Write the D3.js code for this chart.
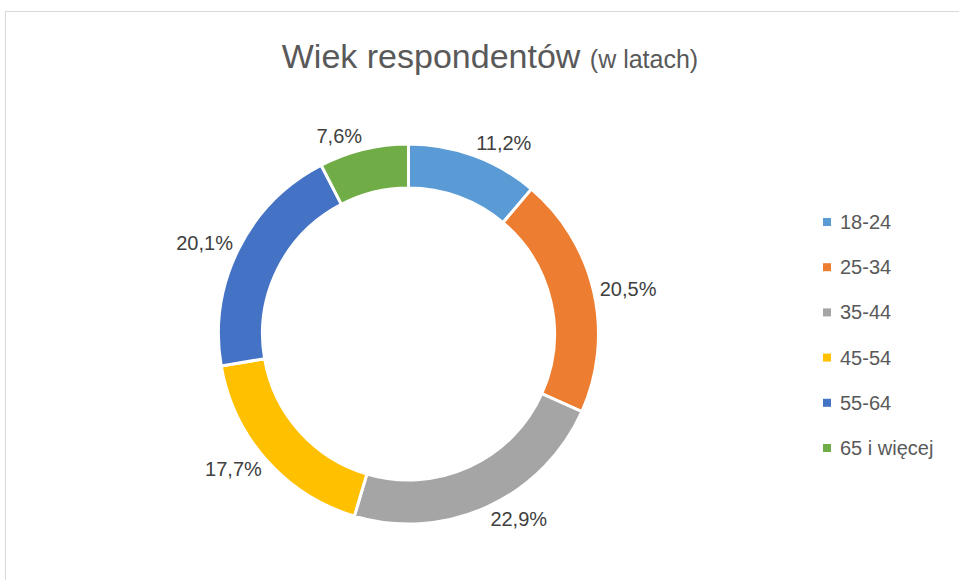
<!DOCTYPE html>
<html>
<head>
<meta charset="utf-8">
<script src="https://d3js.org/d3.v7.min.js"></script>
<style>
  html, body { margin: 0; padding: 0; background: #fff; }
  svg { display: block; font-family: "Liberation Sans", Arial, sans-serif; }
</style>
</head>
<body>
<div class="d3io"></div>
<script>

var categories = ["18-24", "25-34", "35-44", "45-54", "55-64", "65 i więcej"];
var values = [11.2, 20.5, 22.9, 17.7, 20.1, 7.6];
var colors = ["#5B9BD5", "#ED7D31", "#A5A5A5", "#FFC000", "#4472C4", "#70AD47"];

var W = 959, H = 580;
var cx = 408.5, cy = 334, rOut = 190, rIn = 146;

var svg = d3.select(".d3io").append("svg")
  .attr("width", W).attr("height", H);

// chart frame (runs past right and bottom edge)
svg.append("rect")
  .attr("x", 5.5).attr("y", 11.5)
  .attr("width", 1100).attr("height", 1100)
  .attr("fill", "none").attr("stroke", "#d9d9d9");

// title
var title = svg.append("text")
  .attr("x", 490).attr("y", 68)
  .attr("text-anchor", "middle")
  .attr("fill", "#595959");
title.append("tspan").attr("font-size", 34).text("Wiek respondentów ");
title.append("tspan").attr("font-size", 25).text("(w latach)");

var pie = d3.pie().sort(null).value(function(d) { return d; });
var arcs = pie(values);

var arc = d3.arc().innerRadius(rIn).outerRadius(rOut);

var g = svg.append("g").attr("transform", "translate(" + cx + "," + cy + ")");

g.selectAll("path.slice")
  .data(arcs)
  .enter().append("path")
  .attr("class", "slice")
  .attr("d", arc)
  .attr("fill", function(d, i) { return colors[i]; })
  .attr("stroke", "#fff")
  .attr("stroke-width", 3);

// data labels just outside the ring
var fmt = function(v) { return v.toFixed(1).replace(".", ",") + "%"; };
var rLab = 196;
g.selectAll("text.lab")
  .data(arcs)
  .enter().append("text")
  .attr("class", "lab")
  .attr("font-size", 20)
  .attr("fill", "#404040")
  .attr("text-anchor", "middle")
  .text(function(d) { return fmt(d.data); })
  .each(function(d) {
    var a = (d.startAngle + d.endAngle) / 2;
    var bb = this.getBBox();
    var px = rLab * Math.sin(a), py = -rLab * Math.cos(a);
    var x = px + (Math.sin(a) >= 0 ? 1 : -1) * bb.width / 2;
    var y = py - Math.cos(a) * 8;
    d3.select(this).attr("x", x).attr("y", y + 7);
  });

// legend
var leg = svg.append("g");
var rowY = d3.scalePoint().domain(categories).range([222, 448]);
var item = leg.selectAll("g.item")
  .data(categories)
  .enter().append("g")
  .attr("class", "item")
  .attr("transform", function(d) { return "translate(823," + rowY(d) + ")"; });
item.append("rect")
  .attr("x", 0).attr("y", -4)
  .attr("width", 8).attr("height", 8)
  .attr("fill", function(d, i) { return colors[i]; });
item.append("text")
  .attr("x", 17).attr("y", 7)
  .attr("font-size", 20)
  .attr("fill", "#595959")
  .text(function(d) { return d; });

</script>
</body>
</html>
